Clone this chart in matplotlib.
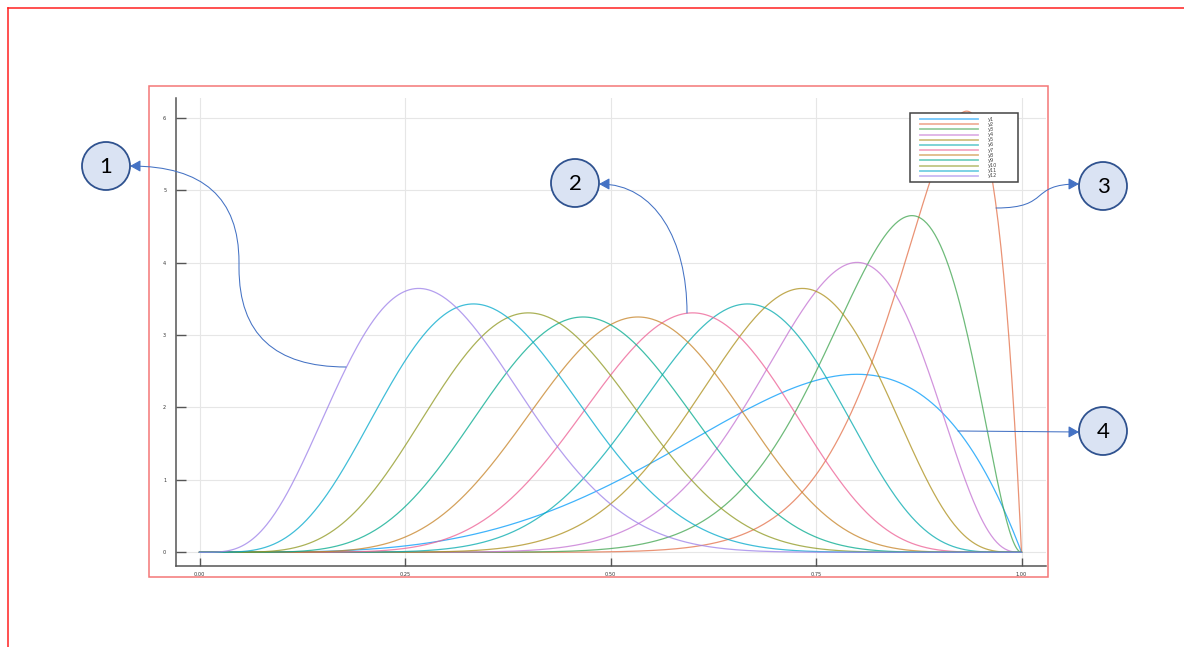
import math
import numpy as np
import matplotlib
matplotlib.use("Agg")
import matplotlib.pyplot as plt
from matplotlib.patches import Circle, Rectangle, FancyArrowPatch
from matplotlib.path import Path

# Beta-distribution densities: labels and shape parameters per series
labels = ["y1", "y2", "y3", "y4", "y5", "y6", "y7", "y8", "y9", "y10", "y11", "y12"]
alpha_params = [5, 15, 14, 13, 12, 11, 10, 9, 8, 7, 6, 5]
beta_params = [2, 2, 3, 4, 5, 6, 7, 8, 9, 10, 11, 12]
colors = ["#009AFA", "#E36F47", "#3EA44E", "#C371D2", "#AC8E18", "#00A9AD",
          "#ED5E93", "#C68225", "#00A98D", "#8E971E", "#00A8CB", "#9B7FE9"]
x_ticks = [0.0, 0.25, 0.5, 0.75, 1.0]
x_ticklabels = ["0.00", "0.25", "0.50", "0.75", "1.00"]
y_ticks = [0, 1, 2, 3, 4, 5, 6]
callout_labels = ["1", "2", "3", "4"]


def beta_pdf(x, a, b):
    norm = math.gamma(a + b) / (math.gamma(a) * math.gamma(b))
    return norm * x ** (a - 1) * (1 - x) ** (b - 1)


W, H = 1184, 647
fig = plt.figure(figsize=(W / 100, H / 100), dpi=100)
fig.patch.set_facecolor("white")


def px_rect(l, t, r, b):
    return [l / W, 1 - b / H, (r - l) / W, (b - t) / H]


# x=0 at px 199.5, x=1 at px 1021.5 ; y=0 at px 552.3, y=6 at px 117.7
x0p, x1p = 199.5, 1021.5
y0p, y6p = 552.3, 117.7
sx = x1p - x0p
sy = (y0p - y6p) / 6
ax_l, ax_t, ax_r, ax_b = 176, 98, 1046, 566
ax = fig.add_axes(px_rect(ax_l, ax_t, ax_r, ax_b))
ax.set_xlim((ax_l - x0p) / sx, (ax_r - x0p) / sx)
ax.set_ylim(-(ax_b - y0p) / sy, (y0p - ax_t) / sy)

xs = np.linspace(0, 1, 600)
for lab, a, b, c in zip(labels, alpha_params, beta_params, colors):
    ax.plot(xs, beta_pdf(xs, a, b), color=c, lw=0.9, alpha=0.75, label=lab)

ax.set_xticks(x_ticks)
ax.set_xticklabels(x_ticklabels)
ax.set_yticks(y_ticks)
ax.grid(True, color="#E6E6E6", lw=0.8)
ax.set_axisbelow(True)
for side in ("top", "right"):
    ax.spines[side].set_visible(False)
for side in ("left", "bottom"):
    ax.spines[side].set_color("#555555")
    ax.spines[side].set_linewidth(1.1)
ax.tick_params(axis="y", direction="in", length=7, width=1.0, color="#555555",
               labelsize=3.6, labelcolor="#333333", pad=7)
ax.tick_params(axis="x", direction="in", length=6, width=1.0, color="#555555",
               labelsize=3.6, labelcolor="#333333", pad=4)

# overlay in pixel coordinates for frames, legend and callouts
ov = fig.add_axes([0, 0, 1, 1], zorder=5)
ov.set_xlim(0, W)
ov.set_ylim(H, 0)
ov.axis("off")
ov.patch.set_alpha(0)

# frames
ov.plot([7.5, W], [7.5, 7.5], color="#FF2020", lw=1.1)
ov.plot([7.5, 7.5], [7.5, H], color="#FF2020", lw=1.1)
ov.add_patch(Rectangle((149, 86), 1048 - 149, 577 - 86, fill=False,
                       edgecolor="#F47777", lw=1.1))

# legend
ov.add_patch(Rectangle((910, 113), 108, 69, facecolor="white",
                       edgecolor="#444444", lw=1.1, zorder=3))
for i, (lab, c) in enumerate(zip(labels, colors)):
    yy = 119 + i * 5.18
    ov.plot([920, 978], [yy, yy], color=c, lw=1.3, alpha=0.55, zorder=4)
    ov.text(988, yy, lab, fontsize=3.6, color="#444444", va="center",
            ha="left", zorder=4)

# callouts
arrow_color = "#4472C4"
centers = [(106, 166), (575, 183), (1103, 186), (1103, 431)]
for (cx, cy), lab in zip(centers, callout_labels):
    ov.add_patch(Circle((cx, cy), 24, facecolor="#DAE3F3",
                        edgecolor="#2F528F", lw=1.3, zorder=6))
    ov.text(cx, cy + 1, lab, fontsize=16, family="Lato", color="black",
            ha="center", va="center", zorder=7)

paths = [
    Path([(346, 367), (239, 367), (239, 268), (239, 262), (239, 166), (130, 166)],
         [Path.MOVETO, Path.CURVE3, Path.CURVE3, Path.LINETO, Path.CURVE3, Path.CURVE3]),
    Path([(687, 313), (687, 240), (655, 184), (599, 184)],
         [Path.MOVETO, Path.CURVE4, Path.CURVE4, Path.CURVE4]),
    Path([(996, 208), (1052, 208), (1028, 184), (1079, 184)],
         [Path.MOVETO, Path.CURVE4, Path.CURVE4, Path.CURVE4]),
    Path([(958, 431), (1079, 432)], [Path.MOVETO, Path.LINETO]),
]
for p in paths:
    ov.add_patch(FancyArrowPatch(path=p, arrowstyle="-|>,head_length=4,head_width=2.2",
                                 color=arrow_color, lw=0.75, zorder=5,
                                 mutation_scale=1.6))

fig.savefig("out.png", dpi=100, facecolor="white")
